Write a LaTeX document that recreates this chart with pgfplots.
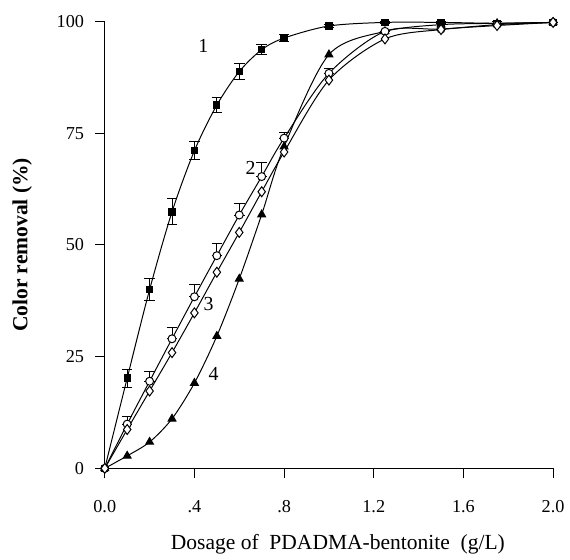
\documentclass[border=0pt]{standalone}
\usepackage{fontspec}
\setmainfont{Liberation Serif}
\usepackage{pgfplots}
\pgfplotsset{compat=1.18}
\begin{document}
\begin{tikzpicture}
\begin{axis}[
  scale only axis, width=270.9pt, height=270pt,
  xmin=0, xmax=2.0, ymin=0, ymax=100,
  axis lines=left, axis line style={-, line width=0.8pt},
  tick align=outside, major tick length=6pt,
  tick style={line width=0.6pt, black},
  xtick={0,0.4,0.8,1.2,1.6,2.0},
  xticklabels={0.0,.4,.8,1.2,1.6,2.0},
  ytick={0,25,50,75,100},
  /pgf/number format/assume math mode=true,
  ticklabel style={font=\fontsize{11}{13}\selectfont},
  xticklabel style={yshift=-10pt},
  yticklabel style={xshift=-3pt},
  xlabel={Dosage of\ \ PDADMA-bentonite\ \ (g/L)},
  ylabel={\textbf{Color removal (\%)}},
  xlabel style={font=\fontsize{13}{15}\selectfont, at={(axis description cs:0.52,-0.17)}, anchor=center},
  ylabel style={font=\fontsize{13}{15}\selectfont, at={(axis description cs:-0.184,0.5)}, anchor=center},
  clip=false,
]
% series 1: filled squares
\addplot[black, line width=0.6pt, smooth, tension=0.5,
  mark=square*, mark size=1.9pt, mark options={fill=black, solid},
  error bars/.cd, y dir=both, y explicit,
  error mark options={black, rotate=90, mark size=3.2pt, line width=0.6pt},
  error bar style={black, line width=0.6pt}]
coordinates {
(0,0) +- (0,0)
(0.1,20.2) +- (0,2.0)
(0.2,40.0) +- (0,2.4)
(0.3,57.4) +- (0,2.9)
(0.4,71.1) +- (0,2.0)
(0.5,81.3) +- (0,1.7)
(0.6,88.8) +- (0,1.7)
(0.7,93.7) +- (0,1.1)
(0.8,96.3) +- (0,0.7)
(1.0,99.0) +- (0,0.4)
(1.25,99.8) +- (0,0.3)
(1.5,99.8) +- (0,0.3)
(1.75,99.6) +- (0,0.3)
(2.0,99.8) +- (0,0)
};
% series 4: filled triangles
\addplot[black, line width=0.6pt, smooth, tension=0.5,
  mark=triangle*, mark size=2.7pt, mark options={fill=black, solid}]
coordinates {
(0,0) (0.1,2.8) (0.2,5.9) (0.3,11.1) (0.4,19.1) (0.5,29.6) (0.6,42.4)
(0.7,56.8) (0.8,72.0) (1.0,92.6) (1.25,97.8) (1.5,99.3) (1.75,99.6) (2.0,99.8)
};
% series 2: open circles
\addplot[black, line width=0.6pt, smooth, tension=0.5,
  mark=*, mark size=2.4pt, mark options={fill=white, draw=black, solid},
  error bars/.cd, y dir=both, y explicit,
  error mark options={black, rotate=90, mark size=3.2pt, line width=0.6pt},
  error bar style={black, line width=0.6pt}]
coordinates {
(0,0) += (0,0) -= (0,0)
(0.1,9.9) += (0,1.6) -= (0,0)
(0.2,19.5) += (0,2.2) -= (0,0)
(0.3,29.0) += (0,2.6) -= (0,0)
(0.4,38.4) += (0,2.8) -= (0,0)
(0.5,47.6) += (0,2.8) -= (0,0)
(0.6,56.7) += (0,2.6) -= (0,0)
(0.7,65.3) += (0,3.1) -= (0,0)
(0.8,73.9) += (0,1.2) -= (0,0)
(1.0,88.4) += (0,1.0) -= (0,0)
(1.25,97.8) += (0,0) -= (0,0)
(1.5,98.3) += (0,0) -= (0,0)
(1.75,99.3) += (0,0) -= (0,0)
(2.0,99.8) += (0,0) -= (0,0)
};
% series 3: open diamonds
\addplot[black, line width=0.6pt, smooth, tension=0.5,
  mark=diamond*, mark size=3.0pt, mark options={fill=white, draw=black, solid}]
coordinates {
(0,0) (0.1,8.7) (0.2,17.3) (0.3,25.9) (0.4,34.8) (0.5,43.9) (0.6,52.8)
(0.7,61.9) (0.8,70.8) (1.0,86.9) (1.25,96.1) (1.5,98.2) (1.75,99.1) (2.0,99.8)
};
\node[font=\fontsize{12}{14}\selectfont] at (axis cs:0.44,94.6) {1};
\node[font=\fontsize{12}{14}\selectfont] at (axis cs:0.65,67.2) {2};
\node[font=\fontsize{12}{14}\selectfont] at (axis cs:0.463,36.8) {3};
\node[font=\fontsize{12}{14}\selectfont] at (axis cs:0.485,21.1) {4};
\end{axis}
\path[use as bounding box] (-63.3pt,-48.8pt) rectangle (278.7pt,283pt);
\end{tikzpicture}
\end{document}
